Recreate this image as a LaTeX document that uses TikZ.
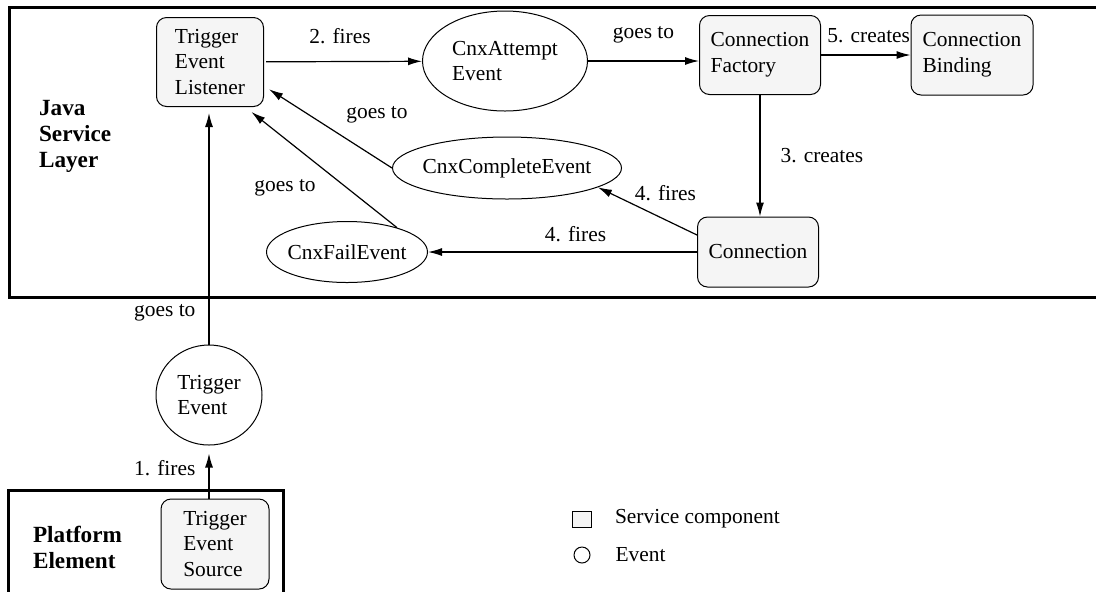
\documentclass[tikz,border=0pt]{standalone}
\usepackage{fontspec}
\setmainfont{Liberation Serif}
\usetikzlibrary{arrows.meta,shapes.geometric,positioning}

\begin{document}
\begin{tikzpicture} [
                x=0.5pt, y=-0.5pt,
                font=\fontsize{10.7}{12.8}\selectfont,
                component/.style = {draw,line width=0.5pt,rounded corners=5pt,fill=black!4,align=left,inner sep=0pt},
                event/.style = {draw,line width=0.5pt,ellipse,align=left,inner sep=0pt},
                link/.style = {draw,line width=0.6pt,-{Latex[length=7pt,width=4pt]}},
                lbl/.style = {inner sep=0pt},
                layer/.style = {draw,line width=1.5pt},
                layer name/.style = {anchor=west,align=left,font=\fontsize{11.6}{13}\selectfont\bfseries}
            ]
            \clip (0,0) rectangle (1096,591);
            % the two layers
            \draw[layer] (9,7) rectangle (1110,297);
            \draw[layer] (8,490) rectangle (283,610);
            \node[layer name] (javalbl) at (32,136) {Java\\Service\\Layer};
            \node[layer name] (platlbl) at (26,547) {Platform\\Element};
            % service components
            \node[component, minimum width=53.5pt, minimum height=44.5pt] (listener) at (210,62) {Trigger\\Event\\Listener};
            \node[component, minimum width=60.5pt, minimum height=39.5pt] (factory) at (760,55) {Connection\\Factory};
            \node[component, minimum width=61pt, minimum height=40pt] (binding) at (972,55) {Connection\\Binding};
            \node[component, minimum width=60.5pt, minimum height=35pt] (connection) at (758,252) {Connection};
            \node[component, minimum width=54pt, minimum height=45pt] (source) at (215,544) {Trigger\\Event\\Source};
            % events
            \node[event, minimum width=82.5pt, minimum height=50pt] (attempt) at (505,61) {CnxAttempt\\Event};
            \node[event, inner xsep=-3pt, minimum width=114.5pt, minimum height=31pt] (complete) at (507,168) {CnxCompleteEvent};
            \node[event, inner xsep=-2pt, minimum width=80.5pt, minimum height=30.5pt] (fail) at (347,252) {CnxFailEvent};
            \node[event, minimum width=53pt, minimum height=50pt] (trigger) at (209,395) {Trigger\\Event};
            % connectors with their labels
            \path[link, shorten <=1pt] (listener) -- node[lbl, xshift=-1.5pt, yshift=12.5pt] {2. fires} (attempt);
            \path[link] (attempt.east) -- node[lbl, yshift=13pt] {goes to} (attempt.east -| factory.west);
            \path[link] (factory) -- node[lbl, xshift=1.5pt, yshift=9.5pt] {5. creates} (binding);
            \path[link] (factory.south) -- node[lbl, right=10pt] {3. creates} (factory.south |- connection.north);
            \path[link] (connection) -- node[lbl, xshift=6.5pt, yshift=9pt] {4. fires} (fail);
            \path[link] (connection.west |- 0,235) -- node[lbl, xshift=9pt, yshift=9pt] {4. fires} (complete.-12);
            \path[link, shorten >=3pt] (complete.west) -- node[lbl, xshift=24.5pt, yshift=6pt] {goes to} (listener.-24);
            \path[link, shorten >=4pt] (fail.26) -- node[lbl, xshift=-18pt, yshift=-10pt] {goes to} (listener.-52);
            \path[link, shorten >=3pt] (trigger.north) -- node[lbl, pos=0.134, left=6.5pt] {goes to} (trigger.north |- listener.south);
            \path[link, shorten >=4pt] (trigger.south |- source.north) -- node[lbl, left=6.5pt, yshift=2pt] {1. fires} (trigger.south);
            % legend
            \node[component, rounded corners=0pt, minimum width=9.5pt, minimum height=8pt] (legbox) at (582,519) {};
            \node[right=8pt of legbox] (legcomp) {Service component};
            \node[draw, line width=0.5pt, circle, minimum size=8pt, inner sep=0pt] (legevent) at (582,555) {};
            \node[right=9pt of legevent] (legevt) {Event};
        \end{tikzpicture}
\end{document}
